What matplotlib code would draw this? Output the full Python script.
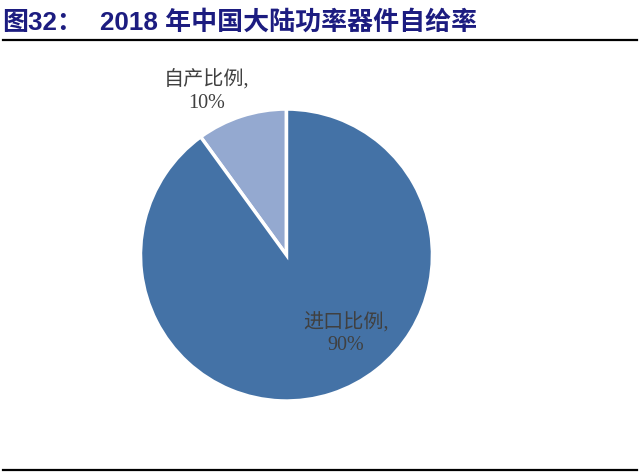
import matplotlib.pyplot as plt
from matplotlib.lines import Line2D

labels = ["自产比例", "进口比例"]
shares = [10, 90]
colors = ["#94a9d0", "#4472a6"]

title_no = "图32："
title_text = "2018 年中国大陆功率器件自给率"

fig = plt.figure(figsize=(6.4, 4.72), dpi=100)

# title + rules
title_font = dict(fontsize=18.7, fontweight="bold", color="#1c1c80",
                  family=["Liberation Sans", "Noto Sans CJK SC"], va="center")
fig.text(0.004, 0.952, title_no, **title_font)
fig.text(0.156, 0.952, title_text, **title_font)
fig.add_artist(Line2D([0.005, 0.995], [0.915, 0.915], color="black", lw=1.6))
fig.add_artist(Line2D([0.005, 0.995], [0.004, 0.004], color="black", lw=1.6))

ax = fig.add_axes([0.2195, 0.1504, 0.45625, 0.6186])
ax.pie(shares, colors=colors, startangle=90, counterclock=True, radius=1,
       wedgeprops=dict(edgecolor="white", linewidth=2.5))
ax.set_xlim(-1, 1)
ax.set_ylim(-1, 1)
ax.set_aspect("equal")
ax.axis("off")

label_pos = [(-0.545, 1.12), (0.408, -0.54)]
for (x, y), lab, v in zip(label_pos, labels, shares):
    ax.text(x, y, f"{lab},\n{v}%", ha="center", va="center", fontsize=14.5,
            color="#404040", family=["Liberation Serif", "Noto Sans CJK SC"],
            linespacing=1.2, clip_on=False)

fig.savefig("out.png", dpi=100)
